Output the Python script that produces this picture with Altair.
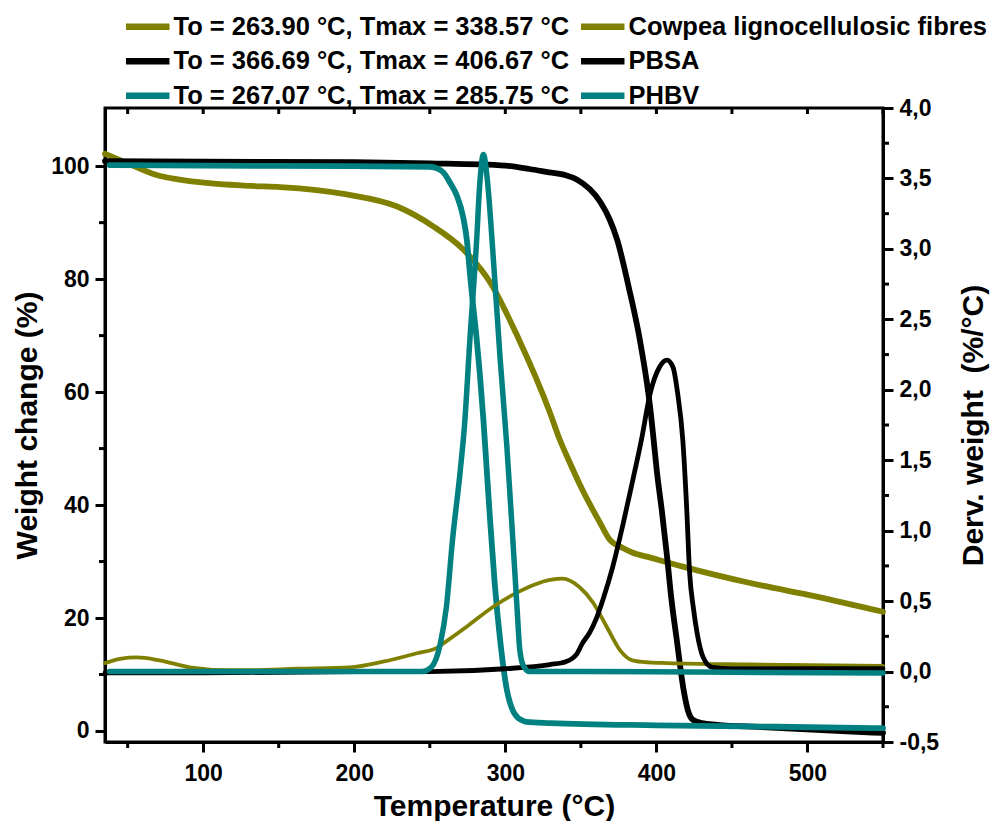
import altair as alt
import pandas as pd

# ---------------- data ----------------
names = ["Cowpea lignocellulosic fibres", "PBSA", "PHBV"]
onsets = ["To = 263.90 °C, Tmax = 338.57 °C",
          "To = 366.69 °C, Tmax = 406.67 °C",
          "To = 267.07 °C, Tmax = 285.75 °C"]
colors = ["#808000", "#000000", "#008080"]

# TGA curves: weight change (%)
cowpea_tga_T = [35, 50, 67, 96, 131, 151, 195, 228, 252, 272, 290, 308, 329.5, 336, 342.7, 351,
                362.6, 369, 377.8, 384, 396, 417.5, 462, 506, 550]
cowpea_tga_W = [102.2, 100.5, 98.6, 97.2, 96.5, 96.3, 95.0, 92.9, 89.4, 85.3, 79.4, 69.9, 56.4, 51.6,
                47.5, 42.7, 36.9, 33.9, 32.4, 31.6, 30.7, 29.1, 26.2, 23.8, 21.1]

pbsa_tga_T = [35, 100, 200, 250, 300, 316, 329, 340, 347, 363, 369, 374, 382, 389, 396, 398, 400.3,
              403.6, 407, 410, 413.5, 418, 420.8, 424, 430, 440, 470, 506, 550]
pbsa_tga_W = [100.9, 100.8, 100.7, 100.5, 100.1, 99.5, 98.9, 98.4, 97.7, 93.6, 90.6, 87.0, 78.2, 69.3,
              57.0, 52.0, 46.0, 39.0, 31.0, 23.2, 16.1, 7.3, 3.7, 2.0, 1.4, 1.1, 0.7, 0.2, -0.35]

phbv_tga_T = [38, 100, 200, 250, 255, 259, 263.3, 268, 272, 274.5, 276.5, 278.6, 281, 283.2, 285.5,
              288, 290, 293, 296.4, 301, 305, 307.7, 311, 314, 330, 400, 480, 550]
phbv_tga_W = [100.2, 100.1, 100.0, 99.9, 99.6, 98.9, 97.1, 94.7, 91.1, 87.0, 81.2, 75.5, 69.5, 63.0,
              55.0, 45.0, 37.0, 26.0, 16.5, 7.3, 3.6, 2.5, 1.9, 1.6, 1.4, 1.0, 0.75, 0.5]

# DTG curves: derivative weight (%/°C)
cowpea_dtg_T = [35, 45, 56, 71, 91, 116, 131, 162, 197, 219, 241.5, 255, 259, 274.6, 292, 307.7, 320,
                329.5, 338, 349, 358, 367, 376, 384, 395, 407, 462, 550]
cowpea_dtg_D = [0.06, 0.09, 0.10, 0.08, 0.03, 0.01, 0.01, 0.02, 0.03, 0.07, 0.13, 0.17, 0.20, 0.32,
                0.46, 0.56, 0.62, 0.65, 0.66, 0.60, 0.49, 0.32, 0.15, 0.08, 0.065, 0.06, 0.05, 0.04]

pbsa_dtg_T = [35, 100, 200, 250, 300, 329.5, 340, 347, 351, 356, 360, 364.6, 371, 378, 384.4, 390, 396,
              402, 407, 411, 414, 417.5, 420, 422, 424.5, 427, 431, 437, 450, 550]
pbsa_dtg_D = [-0.01, -0.01, 0.0, 0.0, 0.02, 0.05, 0.07, 0.12, 0.20, 0.28, 0.37, 0.51, 0.74, 1.05, 1.36,
              1.64, 1.98, 2.16, 2.21, 2.16, 1.98, 1.64, 1.17, 0.70, 0.45, 0.27, 0.10, 0.03, 0.02, 0.02]

phbv_dtg_T = [38, 100, 200, 245, 251, 257, 261, 265, 270, 273, 276.5, 281, 283, 285.5, 288, 292,
              296.5, 301, 305, 307.7, 309.6, 312, 316, 330, 450, 550]
phbv_dtg_D = [0.0, 0.0, 0.0, 0.0, 0.03, 0.20, 0.46, 0.93, 1.41, 1.75, 2.35, 3.06, 3.45, 3.67, 3.50,
              2.94, 2.23, 1.60, 0.93, 0.46, 0.15, 0.04, 0.0, 0.0, -0.005, -0.01]

x_major = [100, 200, 300, 400, 500]
x_minor = [50, 150, 250, 350, 450, 550]
x_top = [50, 100, 150, 200, 250, 300, 350, 400, 450, 500, 550]
left_major = [0, 20, 40, 60, 80, 100]
left_minor = [10, 30, 50, 70, 90]
right_major = [-0.5, 0.0, 0.5, 1.0, 1.5, 2.0, 2.5, 3.0, 3.5, 4.0]
right_minor = [-0.25, 0.25, 0.75, 1.25, 1.75, 2.25, 2.75, 3.25, 3.75]

# ---------------- styling ----------------
W, H = 778, 634
BOLD = "Liberation Sans"

X = alt.X("T:Q",
          scale=alt.Scale(domain=[35, 550], nice=False, zero=False),
          axis=alt.Axis(values=x_major, format="d", title="Temperature (°C)",
                        labelPadding=10, titlePadding=6))
YL = alt.Y("W:Q",
           scale=alt.Scale(domain=[-1.95, 110.3], nice=False, zero=False),
           axis=alt.Axis(values=left_major, format="d", title="Weight change (%)",
                         labelPadding=6, titlePadding=8))
YR = alt.Y("D:Q",
           scale=alt.Scale(domain=[-0.5, 4.0], nice=False, zero=False),
           axis=alt.Axis(orient="right", values=right_major, title="Derv. weight\u00a0 (%/°C)",
                         labelExpr="(datum.value < 0 ? '-' : '') + replace(format(abs(datum.value), '.1f'), '.', ',')",
                         labelPadding=6, titlePadding=20, titleAngle=270, titleBaseline="top"))

path = "M-3,0H3"
leg_common = dict(orient="none", title=None, symbolType=path, symbolSize=210, symbolStrokeWidth=6.5,
                  labelFont=BOLD, labelFontSize=25.5, labelFontWeight="bold", labelColor="black",
                  labelLimit=0, labelOffset=13, rowPadding=6.5, padding=0, direction="vertical")
legend1 = alt.Legend(legendX=30, legendY=-94, **leg_common)
legend2 = alt.Legend(legendX=485, legendY=-94, **leg_common)

cs1 = alt.Scale(domain=onsets, range=colors)
cs2 = alt.Scale(domain=names, range=colors)


def tga(T, Wv, label, sw):
    df = pd.DataFrame({"T": T, "W": Wv, "label": label})
    return alt.Chart(df).mark_line(strokeWidth=sw, strokeCap="round", strokeJoin="round",
                                   interpolate="monotone").encode(
        x=X, y=YL, color=alt.Color("label:N", scale=cs1, legend=legend1))


def dtg(T, Dv, name, sw):
    df = pd.DataFrame({"T": T, "D": Dv, "name": name})
    return alt.Chart(df).mark_line(strokeWidth=sw, strokeCap="round", strokeJoin="round",
                                   interpolate="monotone").encode(
        x=X, y=YR, color=alt.Color("name:N", scale=cs2, legend=legend2))


rule_kw = dict(color="black", strokeWidth=3)
x_minor_ticks = alt.Chart(pd.DataFrame({"T": x_minor})).mark_rule(**rule_kw).encode(
    x=X, y=alt.value(H), y2=alt.value(H + 6))
x_top_ticks = alt.Chart(pd.DataFrame({"T": x_top})).mark_rule(**rule_kw).encode(
    x=X, y=alt.value(0), y2=alt.value(6))
left_minor_ticks = alt.Chart(pd.DataFrame({"W": left_minor})).mark_rule(**rule_kw).encode(
    y=YL, x=alt.value(-6), x2=alt.value(0))
right_minor_ticks = alt.Chart(pd.DataFrame({"D": right_minor})).mark_rule(**rule_kw).encode(
    y=YR, x=alt.value(W), x2=alt.value(W + 6))

left = alt.layer(
    tga(cowpea_tga_T, cowpea_tga_W, onsets[0], 5.8),
    tga(pbsa_tga_T, pbsa_tga_W, onsets[1], 5.8),
    tga(phbv_tga_T, phbv_tga_W, onsets[2], 5.8),
    x_minor_ticks, x_top_ticks, left_minor_ticks,
)
right = alt.layer(
    dtg(cowpea_dtg_T, cowpea_dtg_D, names[0], 3.8),
    dtg(pbsa_dtg_T, pbsa_dtg_D, names[1], 4.8),
    dtg(phbv_dtg_T, phbv_dtg_D, names[2], 5.5),
    right_minor_ticks,
)

chart = alt.layer(left, right).resolve_scale(y="independent", color="independent").properties(
    width=W, height=H,
    padding={"left": 97, "top": 100, "right": 109, "bottom": 79},
    autosize=alt.AutoSizeParams(type="none"),
).configure_view(stroke="black", strokeWidth=3).configure_axis(
    grid=False, domainColor="black", domainWidth=3, tickColor="black", tickWidth=3, tickSize=10,
    labelFont=BOLD, labelFontWeight="bold", labelFontSize=23, labelColor="black",
    titleFont=BOLD, titleFontWeight="bold", titleFontSize=30, titleColor="black",
)

chart.save("out.html", embed_options={"renderer": "svg", "actions": False})
